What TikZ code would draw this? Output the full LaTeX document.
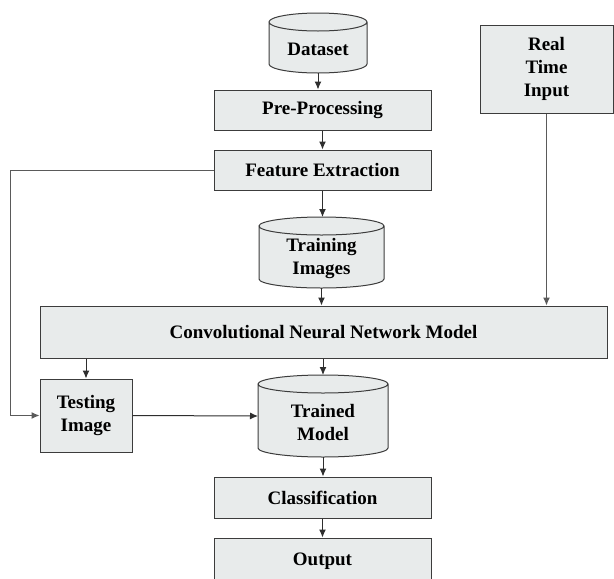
\documentclass[tikz,border=0pt]{standalone}
\usepackage{fontspec}
\newfontfamily\lblfont{LiberationSerif-Bold.ttf}
\usetikzlibrary{arrows.meta,calc}
\definecolor{boxfill}{HTML}{E8EBEB}
\definecolor{boxline}{HTML}{3C3C3C}
\definecolor{arrline}{HTML}{2E2E2E}
\definecolor{loopline}{HTML}{5A5A5A}
\tikzset{
  lbl/.style={font=\lblfont\fontsize{19}{23}\selectfont, align=center, text=black},
  box/.style={lbl, draw=boxline, fill=boxfill, line width=1pt, rectangle, inner sep=0pt},
  cylnode/.style={rectangle, inner sep=0pt, outer sep=0pt, draw=none},
  cyltext/.style={lbl, inner sep=0pt},
  cylbody/.style={draw=boxline, fill=boxfill, line width=1pt},
  arr/.style={draw=arrline, line width=1pt, -{Latex[length=8pt,width=7pt]}},
  looparr/.style={arr, draw=loopline},
}
\newcommand\drawcylinder[2]{%
  \draw[cylbody] ([yshift=-9pt]#1.north west) -- ([yshift=9pt]#1.south west)
    arc[start angle=180,end angle=360,x radius=#2,y radius=9pt]
    -- ([yshift=-9pt]#1.north east)
    arc[start angle=0,end angle=360,x radius=#2,y radius=9pt];}
\begin{document}
\begin{tikzpicture}[x=1pt,y=-1pt]
\clip (0,0) rectangle (614,579);
\fill[white] (0,0) rectangle (614,579);

% cylinders (shape holders)
\node[cylnode, minimum width=98pt, minimum height=60pt] (ds) at (318,43) {};
\node[cylnode, minimum width=125pt, minimum height=71pt] (ti) at (321.5,252.5) {};
\node[cylnode, minimum width=130pt, minimum height=82pt] (tm) at (323,416) {};
\drawcylinder{ds}{49pt}
\drawcylinder{ti}{62.5pt}
\drawcylinder{tm}{65pt}
\node[cyltext] (dsT) at ([yshift=-6pt]ds.center) {Dataset};
\node[cyltext] (tiT) at ([yshift=-6pt]ti.center) {Training\\Images};
\node[cyltext] (tmT) at ([yshift=-6pt]tm.center) {Trained\\Model};

% boxes
\node[box, minimum width=217pt, minimum height=40pt] (pre) at (322.5,110) {Pre-Processing};
\node[box, minimum width=217pt, minimum height=40pt] (fe) at (322.5,170) {Feature Extraction};
\node[box, minimum width=567pt, minimum height=52pt] (cnn) at (323.5,332) {Convolutional Neural Network Model};
\node[box, minimum width=133pt, minimum height=88pt] (rti) at (546.5,69) {Real\\Time\\Input};
\node[box, minimum width=92pt, minimum height=73pt] (test) at (86,415.5) {Testing\\Image};
\node[box, minimum width=217pt, minimum height=41pt] (cls) at (322.5,497.5) {Classification};
\node[box, minimum width=217pt, minimum height=46pt] (out) at (322.5,561) {Output};

% connectors
\draw[arr] (ds.south) -- (pre.north -| ds.south);
\draw[arr] (pre.south) -- (fe.north);
\draw[arr] (fe.south) -- (ti.north -| fe.south);
\draw[arr] (ti.south) -- (cnn.north -| ti.south);
\draw[looparr] (rti.south) -- (rti.south |- cnn.north);
\draw[arr] (test.north |- cnn.south) -- (test.north);
\draw[arr] (tm.north |- cnn.south) -- (tm.north);
\coordinate (loopc) at (10,170);
\draw[looparr] (fe.west) -- (loopc) |- (test.west);
\draw[arr] (test.east) -- (tm.west);
\draw[arr] (tm.south) -- (cls.north -| tm.south);
\draw[arr] (cls.south) -- (out.north);
\end{tikzpicture}
\end{document}
